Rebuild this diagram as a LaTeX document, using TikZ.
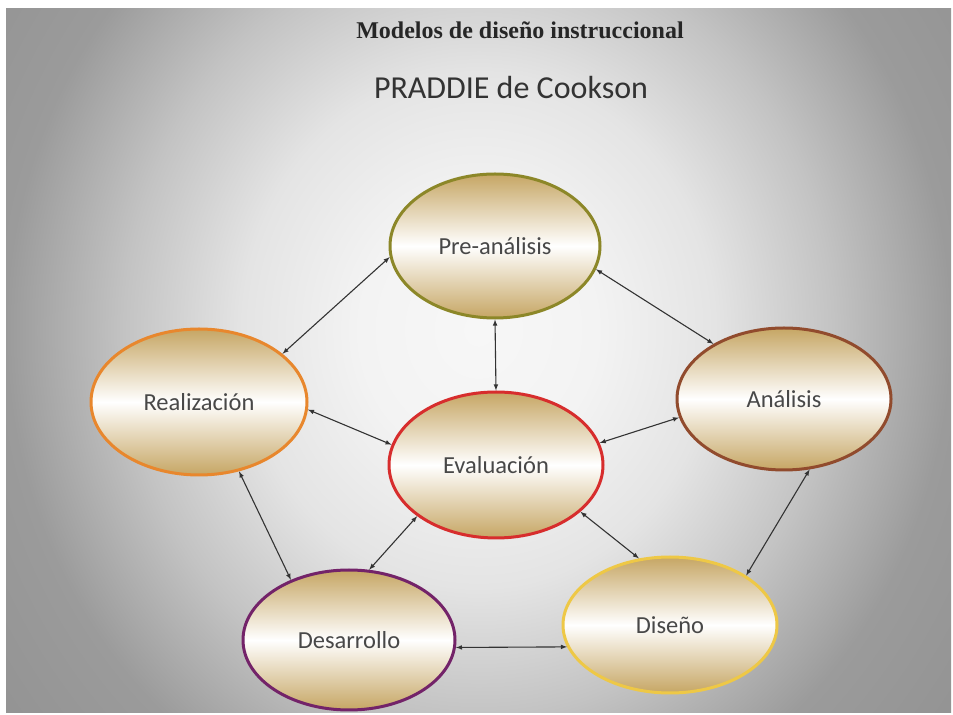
\documentclass[tikz,border=0pt]{standalone}
\usepackage{fontspec}
\setmainfont{Carlito}
\newfontfamily\headfont{Liberation Serif}
\usetikzlibrary{shapes.geometric}

\definecolor{bgc0}{RGB}{247,247,247}
\definecolor{bgc1}{RGB}{243,243,243}
\definecolor{bgc2}{RGB}{228,228,228}
\definecolor{bgc3}{RGB}{195,195,195}
\definecolor{bgc4}{RGB}{155,155,155}
\definecolor{bgc5}{RGB}{140,140,140}
\definecolor{phasegold}{RGB}{198,166,100}
\definecolor{phasetext}{RGB}{72,72,72}
\definecolor{c_pre}{RGB}{140,135,40}
\definecolor{c_real}{RGB}{232,135,45}
\definecolor{c_eval}{RGB}{215,45,45}
\definecolor{c_anal}{RGB}{145,75,45}
\definecolor{c_desa}{RGB}{115,35,105}
\definecolor{c_dise}{RGB}{238,200,70}

\pgfdeclareradialshading{slidebg}{\pgfpointorigin}{color(0bp)=(bgc0); color(6.25bp)=(bgc1); color(12.5bp)=(bgc2); color(18.75bp)=(bgc3); color(25bp)=(bgc4); color(37.5bp)=(bgc5)}

\begin{document}
\begin{tikzpicture}[>=latex,line join=bevel,
  phase/.style={ellipse,inner sep=0pt,line width=3bp,top color=phasegold,bottom color=phasegold,middle color=white,text=phasetext,font=\fontsize{24.5bp}{28bp}\selectfont},
  link/.style={black!80,line width=1.1bp,<->}]
\useasboundingbox (0bp,0bp) rectangle (953bp,715bp);
%% slide background
\fill [white] (0bp,0bp) rectangle (953bp,715bp);
\begin{scope}
  \clip (6bp,2bp) rectangle (951bp,706bp);
  \shade [shading=slidebg] (6bp,-130bp) rectangle (951bp,900bp);
\end{scope}
%% titles
\node (title_0) at (520bp,676bp) [anchor=base,text=black!85] {\headfont\bfseries\fontsize{24bp}{28bp}\selectfont Modelos de diseño instruccional};
\node (title_1) at (511bp,616bp) [anchor=base,text=black!80] {\fontsize{32bp}{36bp}\selectfont PRADDIE de Cookson};
%% phases
\node (node_pre) at (495bp,469bp) [phase,draw=c_pre,minimum width=210bp,minimum height=144bp] {Pre-análisis};
  \node (node_real) at (199bp,313bp) [phase,draw=c_real,minimum width=216bp,minimum height=146bp] {Realización};
  \node (node_eval) at (496bp,250bp) [phase,draw=c_eval,minimum width=214bp,minimum height=146bp] {Evaluación};
  \node (node_anal) at (784bp,316bp) [phase,draw=c_anal,minimum width=214bp,minimum height=142bp] {Análisis};
  \node (node_desa) at (349bp,75bp) [phase,draw=c_desa,minimum width=212bp,minimum height=140bp] {Desarrollo};
  \node (node_dise) at (670bp,90bp) [phase,draw=c_dise,minimum width=214bp,minimum height=136bp] {Diseño};
%
\draw [link] (node_pre.186) -- (node_real.30);
  \draw [link] (node_pre.347) -- (node_anal.142);
  \draw [link] (node_pre.south) -- (node_eval.north);
  \draw [link] (node_real.356) -- (node_eval.169);
  \draw [link] (node_anal.190) -- (node_eval.12);
  \draw [link] (node_real.300) -- (node_desa.134);
  \draw [link] (node_eval.213) -- (node_desa.74);
  \draw [link] (node_eval.331) -- (node_dise.115);
  \draw [link] (node_anal.290) -- (node_dise.33);
  \draw [link] (node_desa.356) -- (node_dise.192);
%
\end{tikzpicture}
\end{document}
